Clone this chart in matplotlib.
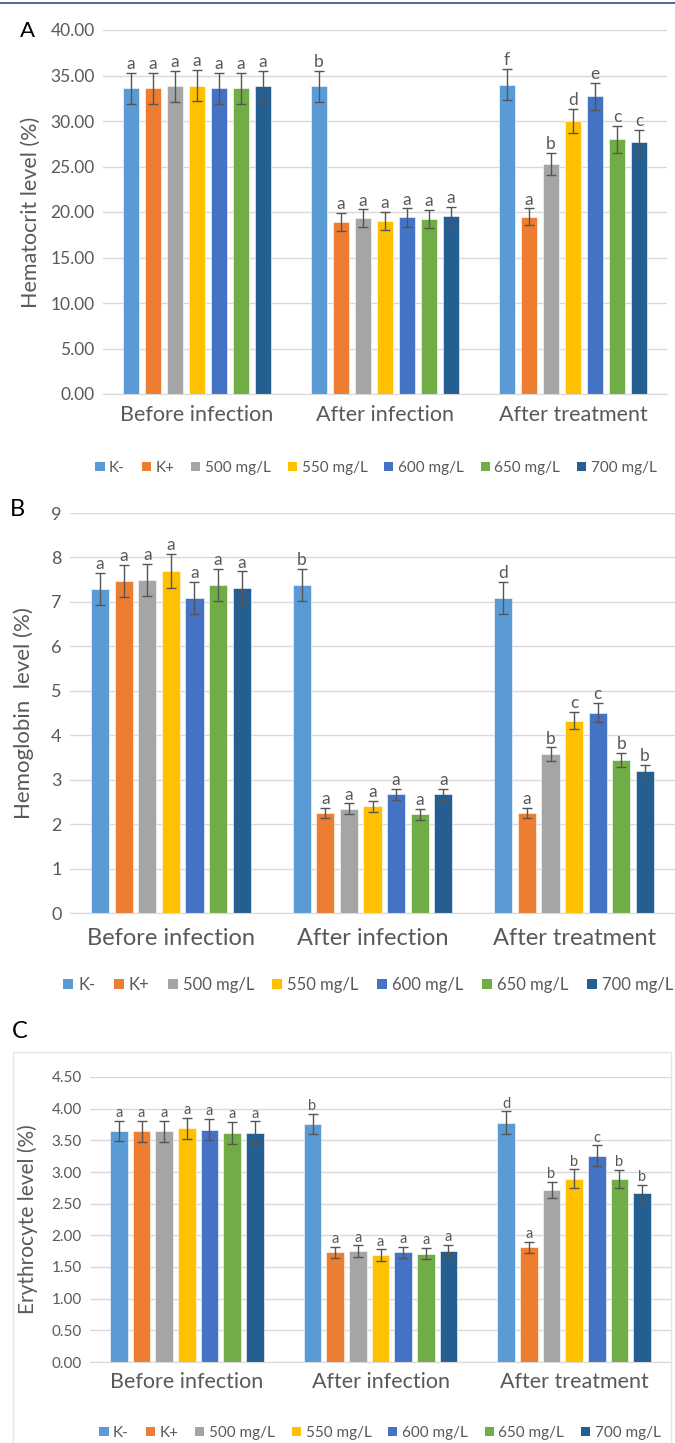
import matplotlib.pyplot as plt
import numpy as np
from matplotlib.patches import Patch
from matplotlib.lines import Line2D

plt.rcParams['font.family'] = ['Lato', 'DejaVu Sans']

# data
groups = ['Before infection', 'After infection', 'After treatment']
series = ['K-', 'K+', '500 mg/L', '550 mg/L', '600 mg/L', '650 mg/L', '700 mg/L']
colors = ['#5B9BD5', '#ED7D31', '#A5A5A5', '#FFC000', '#4472C4', '#70AD47', '#255E91']

# A - hematocrit, rows = groups, cols = series
hct = [[33.6, 33.6, 33.8, 33.9, 33.6, 33.6, 33.8],
       [33.8, 18.9, 19.3, 19.0, 19.4, 19.2, 19.6],
       [34.0, 19.5, 25.3, 30.0, 32.7, 28.0, 27.7]]
hct_err = [[1.7, 1.7, 1.7, 1.7, 1.7, 1.7, 1.7],
           [1.7, 1.0, 1.0, 1.0, 1.0, 1.0, 1.0],
           [1.7, 0.9, 1.2, 1.3, 1.5, 1.5, 1.3]]
hct_let = [['a'] * 7,
           ['b', 'a', 'a', 'a', 'a', 'a', 'a'],
           ['f', 'a', 'b', 'd', 'e', 'c', 'c']]

# B - hemoglobin
hb = [[7.29, 7.47, 7.50, 7.70, 7.09, 7.38, 7.32],
      [7.38, 2.25, 2.35, 2.40, 2.67, 2.22, 2.67],
      [7.09, 2.25, 3.57, 4.33, 4.51, 3.45, 3.20]]
hb_err = [[0.36, 0.36, 0.36, 0.38, 0.36, 0.37, 0.37],
          [0.37, 0.12, 0.12, 0.12, 0.12, 0.12, 0.12],
          [0.36, 0.12, 0.16, 0.20, 0.22, 0.16, 0.13]]
hb_let = [['a'] * 7,
          ['b', 'a', 'a', 'a', 'a', 'a', 'a'],
          ['d', 'a', 'b', 'c', 'c', 'b', 'b']]

# C - erythrocyte
ery = [[3.65, 3.64, 3.64, 3.69, 3.67, 3.62, 3.62],
       [3.76, 1.73, 1.75, 1.69, 1.73, 1.71, 1.76],
       [3.78, 1.81, 2.72, 2.89, 3.26, 2.89, 2.67]]
ery_err = [[0.16, 0.17, 0.17, 0.17, 0.17, 0.17, 0.18],
           [0.16, 0.09, 0.09, 0.09, 0.09, 0.09, 0.09],
           [0.18, 0.09, 0.13, 0.15, 0.16, 0.14, 0.13]]
ery_let = [['a'] * 7,
           ['b', 'a', 'a', 'a', 'a', 'a', 'a'],
           ['d', 'a', 'b', 'b', 'c', 'b', 'b']]

W, H = 675, 1443
fig = plt.figure(figsize=(W / 100, H / 100), dpi=100)
gray = '#595959'
grid = '#D9D9D9'


def px_axes(l, r, t, b):
    return fig.add_axes([l / W, 1 - b / H, (r - l) / W, (b - t) / H])


def panel(ax, vals, errs, lets, ymax, ystep, fmt, ylabel, ylab_x,
          tick_fs, lab_fs, cat_fs, cat_pad, let_fs):
    vals = np.array(vals)
    errs = np.array(errs)
    step, bw = 0.117, 0.09
    centers = np.arange(len(groups)) + 0.5
    for j in range(len(series)):
        x = centers + (j - 3) * step
        ax.bar(x, vals[:, j], bw, color=colors[j], edgecolor='white',
               linewidth=0.4, zorder=2)
        ax.errorbar(x, vals[:, j], yerr=errs[:, j], fmt='none', ecolor='#555555',
                    elinewidth=1, capsize=3.5, capthick=1, zorder=3)
        for i in range(len(groups)):
            ax.annotate(lets[i][j], (x[i], vals[i, j] + errs[i, j]),
                        xytext=(0, 0.5), textcoords='offset points',
                        ha='center', va='bottom', fontsize=let_fs, color=gray)
    ax.set_xlim(0, 3)
    ax.set_ylim(0, ymax)
    ticks = np.arange(0, ymax + ystep / 2, ystep)
    ax.set_yticks(ticks)
    ax.set_yticklabels([fmt.format(v) for v in ticks])
    ax.set_xticks(centers)
    ax.set_xticklabels(groups)
    ax.tick_params(axis='x', length=0, labelsize=cat_fs, labelcolor=gray, pad=cat_pad)
    ax.tick_params(axis='y', length=0, labelsize=tick_fs, labelcolor=gray, pad=6)
    ax.grid(axis='y', color=grid, lw=1, zorder=0)
    ax.set_axisbelow(True)
    for s in ['top', 'right', 'left']:
        ax.spines[s].set_visible(False)
    ax.spines['bottom'].set_color(grid)
    ax.set_ylabel(ylabel, fontsize=lab_fs, color=gray)
    ax.yaxis.set_label_coords(ylab_x, 0.5)


handles = [Patch(facecolor=c, label=s) for c, s in zip(colors, series)]


def legend(xc, yc, fs):
    fig.legend(handles=handles, loc='center', ncol=7, frameon=False,
               bbox_to_anchor=(xc / W, 1 - yc / H), fontsize=fs, labelcolor=gray,
               handlelength=0.6, handleheight=0.6, handletextpad=0.3,
               columnspacing=1.1)


# top rule
fig.add_artist(Line2D([0, 1], [1 - 3 / H, 1 - 3 / H], color='#3B4A8C', lw=1.2))

axA = px_axes(103, 667, 30, 394)
panel(axA, hct, hct_err, hct_let, 40, 5, '{:.2f}', 'Hematocrit level (%)', -0.11,
      12.5, 15.5, 15.5, 8, 12.5)
legend(376, 468, 11)
fig.text(28 / W, 1 - 31 / H, 'A', fontsize=16, ha='center', va='center')

axB = px_axes(70, 675, 513, 913)
panel(axB, hb, hb_err, hb_let, 9, 1, '{:.0f}', 'Hemoglobin  level (%)', -0.06,
      13, 16, 17, 11, 12.5)
legend(368, 985, 12)
fig.text(17 / W, 1 - 510 / H, 'B', fontsize=17, ha='center', va='center')

# light chart-area box of panel C
fig.add_artist(Line2D([13 / W, 13 / W, 671 / W, 671 / W],
                      [0, 1 - 1052 / H, 1 - 1052 / H, 0], color='#E6E6E6', lw=1))
axC = px_axes(90, 671, 1077, 1362)
panel(axC, ery, ery_err, ery_let, 4.5, 0.5, '{:.2f}', 'Erythrocyte level (%)', -0.09,
      11, 15, 15.5, 7, 10.5)
legend(380, 1433, 11)
fig.text(20 / W, 1 - 1032 / H, 'C', fontsize=17, ha='center', va='center')

fig.savefig('out.png', dpi=100)
